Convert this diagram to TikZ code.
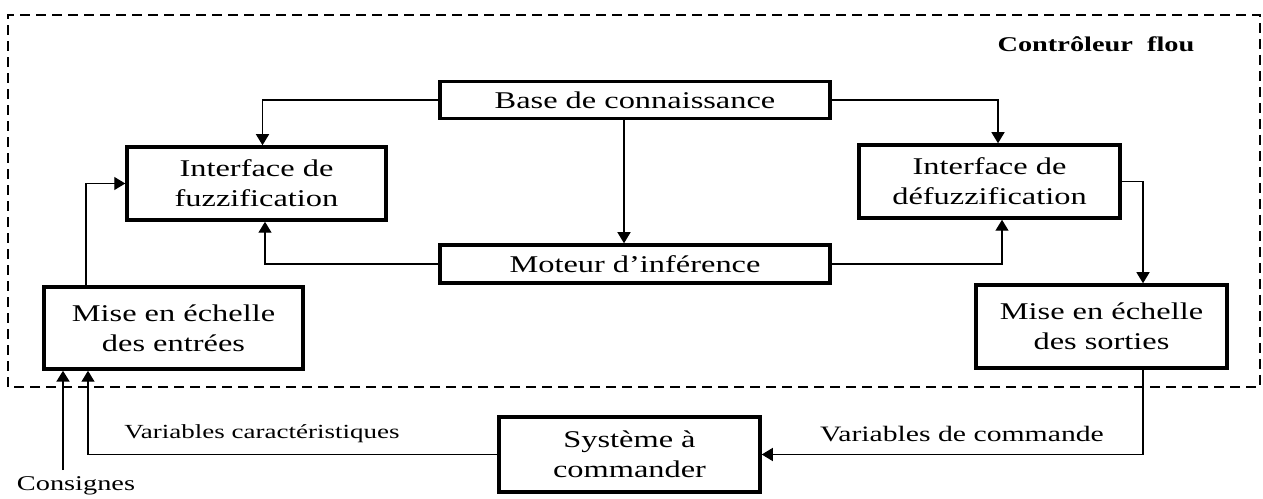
\documentclass[tikz,border=0pt]{standalone}
\usepackage{fontspec}
\setmainfont{Liberation Serif}[FakeStretch=1.35]
\usepackage{tikz}
\usetikzlibrary{positioning,arrows.meta}
\tikzset{
  block/.style={draw, line width=3.5pt, align=center, inner sep=2pt,
                font=\fontsize{24}{30}\selectfont},
  lab/.style={font=\fontsize{21}{25}\selectfont, inner sep=1pt},
  flow/.style={-{Triangle[length=11pt,width=13pt]}, line width=1.3pt},
  frame/.style={line width=1.8pt, dash pattern=on 10pt off 6pt},
}

\begin{document}
\begin{tikzpicture}[x=1pt,y=1pt]
\useasboundingbox (0,0) rectangle (1263,498);
% frame of the controller
\draw[frame] (8,111) rectangle (1260,483);
\node[lab, font=\fontsize{21}{25}\selectfont\bfseries] (titre) at (1096,454) {Contrôleur\ \ flou};
% blocks
\node[block, minimum width=390pt, minimum height=37pt] (base) at (635,398) {Base de connaissance};
\node[block, minimum width=390pt, minimum height=38pt, below=123pt of base] (moteur) {Moteur d’inférence};
\node[block, minimum width=259pt, minimum height=73pt] (fuzz) at (256.5,314.5) {Interface de\\fuzzification};
\node[block, minimum width=261pt, minimum height=73pt] (defuzz) at (989.5,316.5) {Interface de\\défuzzification};
\node[block, minimum width=259pt, minimum height=82pt] (entrees) at (173.5,170) {Mise en échelle\\des entrées};
\node[block, minimum width=251pt, minimum height=83pt] (sorties) at (1101.5,171.5) {Mise en échelle\\des sorties};
\node[block, minimum width=261pt, minimum height=75pt] (systeme) at (629.5,43.5) {Système à\\commander};
% labels
\node[lab, font=\fontsize{20}{24}\selectfont] (varcar) at (262,64) {Variables caractéristiques};
\node[lab, font=\fontsize{22}{26}\selectfont] (varcom) at (962,64) {Variables de commande};
\node[lab] (consignes) at (76,12) {Consignes};
\coordinate (cin) at (63,28);
% connections
\draw[flow] (base.west) -| ([xshift=6pt]fuzz.north);
\draw[flow] (base.east) -| ([xshift=8.5pt]defuzz.north);
\draw[flow] ([xshift=-11pt]base.south) -- ([xshift=-11pt]moteur.north);
\draw[flow] (moteur.west) -| ([xshift=8.5pt]fuzz.south);
\draw[flow] (moteur.east) -| ([xshift=12.5pt]defuzz.south);
\draw[flow] (defuzz.east) -| ([xshift=41.5pt]sorties.north);
\draw[flow] ([xshift=41.5pt]sorties.south) |- (systeme.east);
\draw[flow] (systeme.west) -| ([xshift=-85.5pt]entrees.south);
\draw[flow] ([xshift=-87.5pt]entrees.north) |- (fuzz.west);
\draw[flow, line width=2.2pt] (cin) -- (cin |- entrees.south);
\end{tikzpicture}
\end{document}
